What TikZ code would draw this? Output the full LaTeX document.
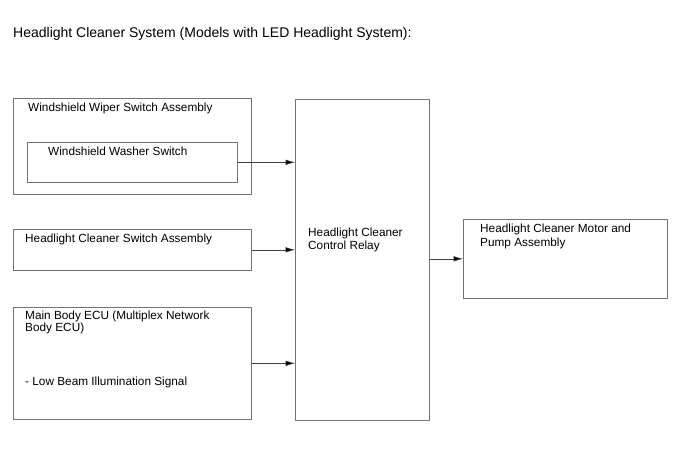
\documentclass[tikz,border=0pt]{standalone}
\usepackage{fontspec}
\setmainfont{Liberation Sans}
\usetikzlibrary{arrows.meta}
\begin{document}
\begin{tikzpicture}[x=1pt,y=-1pt,
  box/.style={draw=black!55, line width=0.6pt, inner sep=0pt, rectangle},
  lbl/.style={anchor=base west, inner sep=0pt, font=\fontsize{11.8}{13}\selectfont},
  conn/.style={draw=black!75, line width=0.5pt, -{Latex[length=9.5pt,width=5.5pt,fill=black]}}]
\useasboundingbox (0,0) rectangle (688,463);
\node[anchor=base west, inner sep=0pt, font=\fontsize{14}{16}\selectfont] (title) at (13,37) {Headlight Cleaner System (Models with LED Headlight System):};
% boxes
\node[box, minimum width=238pt, minimum height=96pt, anchor=north west] (wiper) at (13,98) {};
\node[box, minimum width=210pt, minimum height=40pt, anchor=north west] (washer) at (27,142) {};
\node[box, minimum width=238pt, minimum height=41pt, anchor=north west] (hsw) at (13,229) {};
\node[box, minimum width=238pt, minimum height=112pt, anchor=north west] (ecu) at (13,307) {};
\node[box, minimum width=134pt, minimum height=321pt, anchor=north west] (relay) at (295,99) {};
\node[box, minimum width=204pt, minimum height=79pt, anchor=north west] (motor) at (463,219) {};
% labels
\node[lbl] (twiper) at (28,111) {Windshield Wiper Switch Assembly};
\node[lbl] (twasher) at (48,155) {Windshield Washer Switch};
\node[lbl] (thsw) at (25,242) {Headlight Cleaner Switch Assembly};
\node[lbl] (tecu1) at (25,319) {Main Body ECU (Multiplex Network};
\node[lbl] (tecu2) at (25,331) {Body ECU)};
\node[lbl] (tecu3) at (25,385) {- Low Beam Illumination Signal};
\node[lbl] (trelay1) at (308,236) {Headlight Cleaner};
\node[lbl] (trelay2) at (308,249) {Control Relay};
\node[lbl] (tmotor1) at (480,232) {Headlight Cleaner Motor and};
\node[lbl] (tmotor2) at (480,246) {Pump Assembly};
% connectors
\draw[conn] (washer.east) -- (relay.west |- washer.east);
\draw[conn] (hsw.east) -- (relay.west |- hsw.east);
\draw[conn] (ecu.east) -- (relay.west |- ecu.east);
\draw[conn] (relay.east |- motor.west) -- (motor.west);
\end{tikzpicture}
\end{document}
